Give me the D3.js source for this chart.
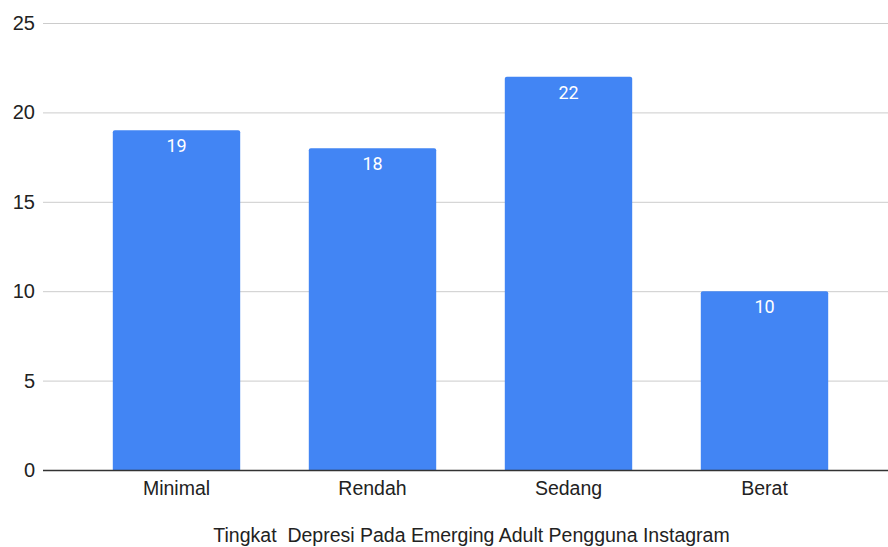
<!DOCTYPE html>
<html>
<head>
<meta charset="utf-8">
<script src="https://cdn.jsdelivr.net/npm/d3@7"></script>
<style>
  html, body { margin: 0; padding: 0; background: #fff; }
  svg { display: block; }
  text { font-family: "Liberation Sans", Arial, sans-serif; fill: #222; }
</style>
</head>
<body>
<svg id="chart" width="888" height="547"></svg>
<script>
// Depression level counts among Instagram-using emerging adults
const categories = ["Minimal", "Rendah", "Sedang", "Berat"];
const counts = [19, 18, 22, 10];
const yTicks = [0, 5, 10, 15, 20, 25];
const xTitle = "Tingkat  Depresi Pada Emerging Adult Pengguna Instagram";

const W = 888, H = 547;
const plot = { left: 43, right: 888, top: 23, bottom: 470 };

const svg = d3.select("#chart");

const y = d3.scaleLinear().domain([0, 25]).range([plot.bottom, plot.top]);
const x = d3.scaleBand()
  .domain(categories)
  .range([78.5, 862.5])
  .paddingInner(0.35)
  .paddingOuter(0.175);

// horizontal gridlines
svg.append("g")
  .selectAll("line")
  .data(yTicks.filter(d => d > 0))
  .join("line")
  .attr("x1", plot.left).attr("x2", plot.right)
  .attr("y1", d => y(d) + 0.5).attr("y2", d => y(d) + 0.5)
  .attr("stroke", "#cccccc").attr("stroke-width", 1);

// y tick labels
svg.append("g")
  .selectAll("text")
  .data(yTicks)
  .join("text")
  .attr("x", 35)
  .attr("y", d => y(d))
  .attr("dy", "0.35em")
  .attr("text-anchor", "end")
  .style("font-size", "20px")
  .text(d => d);

// bars with slightly rounded top corners
const r = 2;
function barPath(x0, w, yTop, yBase) {
  return `M${x0},${yBase}V${yTop + r}Q${x0},${yTop} ${x0 + r},${yTop}` +
         `H${x0 + w - r}Q${x0 + w},${yTop} ${x0 + w},${yTop + r}V${yBase}Z`;
}
svg.append("g")
  .selectAll("path")
  .data(categories.map((c, i) => ({ c, v: counts[i] })))
  .join("path")
  .attr("d", d => barPath(x(d.c), x.bandwidth(), y(d.v), y(0)))
  .attr("fill", "#4285f4");

// value labels inside bars
svg.append("g")
  .selectAll("text")
  .data(categories.map((c, i) => ({ c, v: counts[i] })))
  .join("text")
  .attr("x", d => x(d.c) + x.bandwidth() / 2)
  .attr("y", d => y(d.v) + 22)
  .attr("text-anchor", "middle")
  .style("font-family", "Roboto, sans-serif")
  .style("font-size", "18px")
  .style("fill", "#ffffff")
  .text(d => d.v);

// baseline
svg.append("line")
  .attr("x1", plot.left).attr("x2", plot.right)
  .attr("y1", y(0) + 0.5).attr("y2", y(0) + 0.5)
  .attr("stroke", "#333333").attr("stroke-width", 1.3);

// category labels
svg.append("g")
  .selectAll("text")
  .data(categories)
  .join("text")
  .attr("x", d => x(d) + x.bandwidth() / 2)
  .attr("y", 495)
  .attr("text-anchor", "middle")
  .style("font-size", "19.5px")
  .text(d => d);

// axis title
svg.append("text")
  .attr("x", 471.5)
  .attr("y", 542)
  .attr("text-anchor", "middle")
  .style("font-size", "19.5px")
  .style("white-space", "pre")
  .text(xTitle);
</script>
</body>
</html>
